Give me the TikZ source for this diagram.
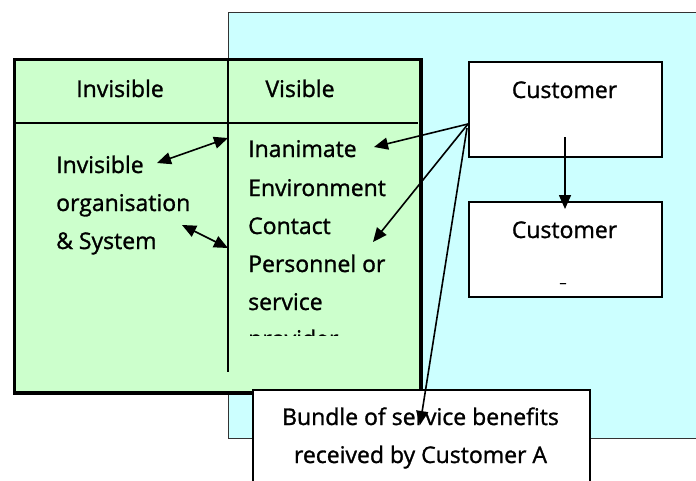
\documentclass[tikz,border=0pt]{standalone}
\usepackage{fontspec}
\setmainfont{Open Sans}
\newfontfamily\lblfont{Open Sans}[FakeBold=1.2]
\usetikzlibrary{arrows.meta}
\definecolor{mint}{HTML}{CCFFCC}
\definecolor{icecyan}{HTML}{CCFFFF}
\tikzset{
  lbl/.style={inner sep=0pt, font=\lblfont\fontsize{23}{27}\selectfont},
  lblw/.style={lbl, anchor=base west},
  lblc/.style={lbl, anchor=base},
  arr/.style={line width=1.6pt, -{Triangle[length=14pt,width=12pt]}},
  darr/.style={line width=1.6pt, {Triangle[length=14pt,width=12pt]}-{Triangle[length=14pt,width=12pt]}},
  whitebox/.style={draw, fill=white, line width=1.6pt, inner sep=0pt, anchor=north west}
}
\begin{document}
\begin{tikzpicture}[x=1pt,y=-1pt]
\useasboundingbox (0,0) rectangle (696,480);
\clip (0,0) rectangle (696,480);

% large pale cyan panel
\node[draw=black!80, fill=icecyan, line width=1pt, inner sep=0pt, anchor=north west,
      minimum width=480pt, minimum height=426pt] (panel) at (228,12) {};

% green panel with its header row and column divider
\node[draw, fill=mint, line width=3.5pt, inner sep=0pt, anchor=north west,
      minimum width=406.5pt, minimum height=333.5pt] (grid) at (12.75,57.75) {};
\coordinate (hdl) at (14,123);
\coordinate (hdr) at (418,123);
\draw[line width=1.3pt] (hdl) -- (hdr);
\coordinate (divtop) at (228,59);
\coordinate (divbot) at (228,372);
\draw[line width=1.3pt] (divtop) -- (divbot);

\node[lblc] (hinv) at (120,97) {Invisible};
\node[lblc] (hvis) at (300,97) {Visible};

\node[lblw] (l1) at (56,173) {Invisible};
\node[lblw] (l2) at (56,211) {organisation};
\node[lblw] (l3) at (56,249) {\& System};

\node[lblw] (r1) at (248,157) {Inanimate};
\node[lblw] (r2) at (248,196) {Environment};
\node[lblw] (r3) at (248,234) {Contact};
\node[lblw] (r4) at (248,272) {Personnel or};
\node[lblw] (r5) at (248,310) {service};
\begin{scope}
  \clip (229,0) rectangle (418,335);
  \node[lblw] (r6) at (248,347) {provider};
\end{scope}

% customer boxes
\node[whitebox, minimum width=193pt, minimum height=95pt] (cust1) at (468,61) {};
\node[lblc] (c1txt) at (564.5,98) {Customer};
\node[whitebox, minimum width=193pt, minimum height=95pt] (cust2) at (468,201) {};
\node[lblc] (c2txt) at (564.5,238) {Customer};
\node[inner sep=0pt, font=\lblfont\fontsize{13}{15}\selectfont] (c2mark) at (563,283) {\_};

% bundle box
\node[whitebox, minimum width=337pt, minimum height=110pt] (bundle) at (252,389) {};
\node[lblc] (b1) at (420.5,425) {Bundle of service benefits};
\node[lblc] (b2) at (420.5,463) {received by Customer A};

% connectors
\coordinate (hub) at (468,124);
\coordinate (hub2) at (467,128);
\coordinate (tinan) at (374,147);
\coordinate (tpers) at (373,242);
\coordinate (tbund) at (420,425);
\coordinate (cdown) at (565,137);
\coordinate (cin) at (565,209);
\coordinate (ia) at (157,163);
\coordinate (ib) at (228,138);
\coordinate (sa) at (182,225);
\coordinate (sb) at (228,248);

\draw[arr] (hub) -- (tinan);
\draw[arr] (hub) -- (tpers);
\draw[arr] (hub2) -- (tbund);
\draw[arr] (cdown) -- (cin);
\draw[darr] (ia) -- (ib);
\draw[darr] (sa) -- (sb);
\end{tikzpicture}
\end{document}
